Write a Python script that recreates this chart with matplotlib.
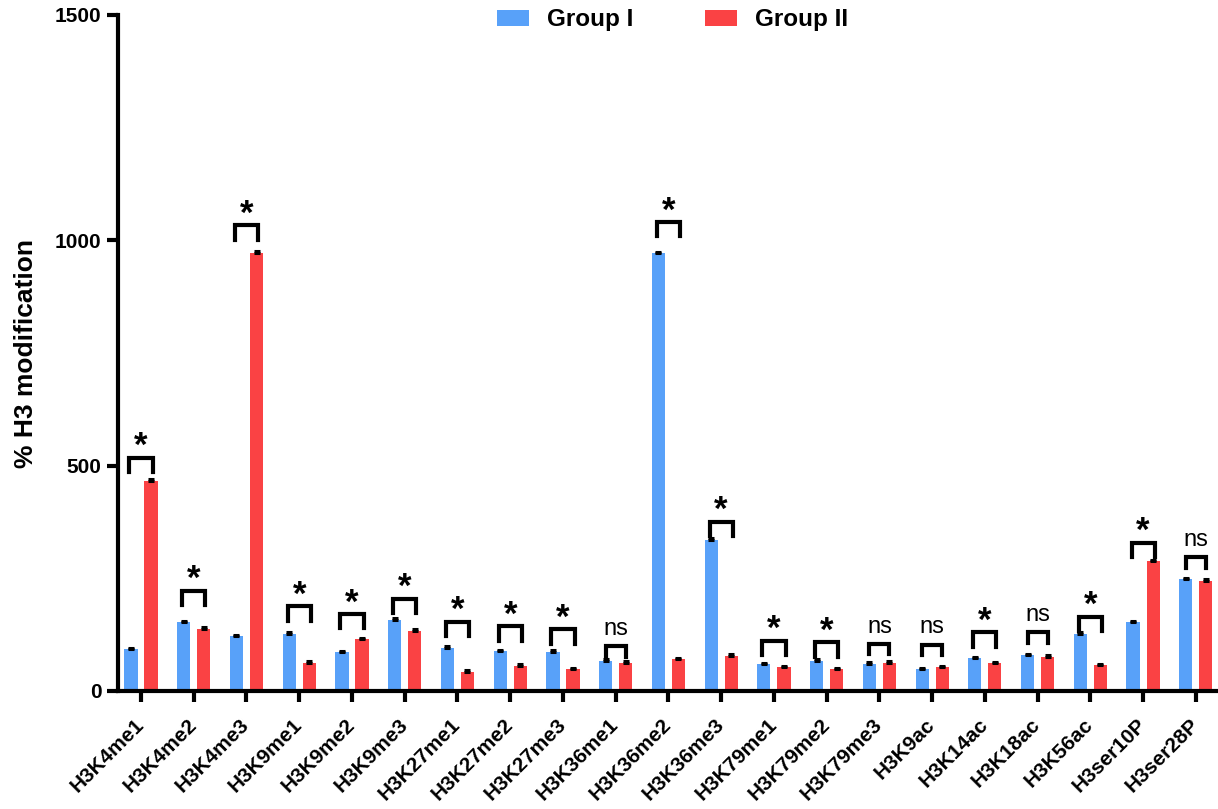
import numpy as np
import matplotlib
matplotlib.use("Agg")
import matplotlib.pyplot as plt

plt.rcParams['font.family'] = ['Liberation Sans', 'DejaVu Sans']

# histone marks and % H3 modification for each group
marks = ["H3K4me1", "H3K4me2", "H3K4me3", "H3K9me1", "H3K9me2", "H3K9me3",
         "H3K27me1", "H3K27me2", "H3K27me3", "H3K36me1", "H3K36me2", "H3K36me3",
         "H3K79me1", "H3K79me2", "H3K79me3", "H3K9ac", "H3K14ac", "H3K18ac",
         "H3K56ac", "H3ser10P", "H3ser28P"]
group1 = [93, 152, 121, 127, 86, 158, 96, 89, 87, 67, 971, 336,
          60, 67, 61, 49, 73, 80, 127, 153, 248]
group2 = [467, 138, 973, 63, 115, 134, 43, 56, 49, 63, 70, 78,
          53, 49, 63, 53, 62, 76, 58, 288, 245]
err1 = [3, 3, 3, 3, 3, 3, 3, 3, 3, 3, 3, 3, 3, 3, 3, 3, 3, 3, 3, 3, 3]
err2 = [3, 3, 3, 3, 3, 3, 3, 3, 3, 3, 3, 3, 3, 3, 3, 3, 3, 3, 3, 3, 3]

# significance calls and bracket heights
sig = ["*", "*", "*", "*", "*", "*", "*", "*", "*", "ns", "*", "*",
       "*", "*", "ns", "ns", "*", "ns", "*", "*", "ns"]
bracket_y = [518, 223, 1033, 188, 171, 205, 154, 144, 137, 100, 1041, 376,
             112, 108, 105, 103, 130, 130, 165, 329, 297]

blue = "#58A1F9"
red = "#FA4244"

fig = plt.figure(figsize=(12.18, 8.09), dpi=100)
ax = fig.add_axes([118 / 1218, 1 - 691 / 809, 1100 / 1218, 676 / 809])

x = np.arange(len(marks))
off = 0.19
w = 0.25
ax.bar(x - off, group1, w, color=blue, label="Group I", zorder=2)
ax.bar(x + off, group2, w, color=red, label="Group II", zorder=2)
ax.errorbar(x - off, group1, yerr=[np.zeros(len(x)), err1], fmt="none",
            ecolor="black", elinewidth=1.5, capsize=2.5, capthick=2.2, zorder=3)
ax.errorbar(x + off, group2, yerr=[np.zeros(len(x)), err2], fmt="none",
            ecolor="black", elinewidth=1.5, capsize=2.5, capthick=2.2, zorder=3)

# brackets with * / ns over each pair
for i, (s, yb) in enumerate(zip(sig, bracket_y)):
    if s == "*":
        hw, leg = 0.22, 32
    else:
        hw, leg = 0.19, 24
    ax.plot([i - hw, i - hw, i + hw, i + hw], [yb - leg, yb, yb, yb - leg],
            color="black", lw=3, solid_joinstyle="miter", zorder=4)
    if s == "*":
        ax.annotate("*", (i, yb), xytext=(0, 1), textcoords="offset points",
                    ha="center", va="baseline", fontsize=25, fontweight="bold")
    else:
        ax.annotate("ns", (i, yb), xytext=(0, 8), textcoords="offset points",
                    ha="center", va="baseline", fontsize=17)

ax.set_xlim(-0.436, 20.42)
ax.set_ylim(0, 1500)
ax.set_yticks([0, 500, 1000, 1500])
ax.set_xticks(x)
ax.set_xticklabels(marks, rotation=45, ha="right", va="center",
                   rotation_mode="anchor", fontsize=15, fontweight="bold")
for lbl in ax.get_yticklabels():
    lbl.set_fontweight("bold")
    lbl.set_fontsize(15)
ax.tick_params(axis="both", width=3, length=8, direction="out")
ax.tick_params(axis="y", pad=4)
ax.tick_params(axis="x", pad=14)

for side in ["top", "right"]:
    ax.spines[side].set_visible(False)
for side in ["left", "bottom"]:
    ax.spines[side].set_linewidth(3)

ax.set_ylabel("% H3 modification", fontsize=19, fontweight="bold", labelpad=12)

ax.legend(loc="center", bbox_to_anchor=(0.504, 0.993), ncol=2, frameon=False,
          prop={"size": 17.5, "weight": "bold"}, handlelength=1.32,
          handleheight=0.62, handletextpad=0.74, columnspacing=2.96)

fig.savefig("out.png", dpi=100)
